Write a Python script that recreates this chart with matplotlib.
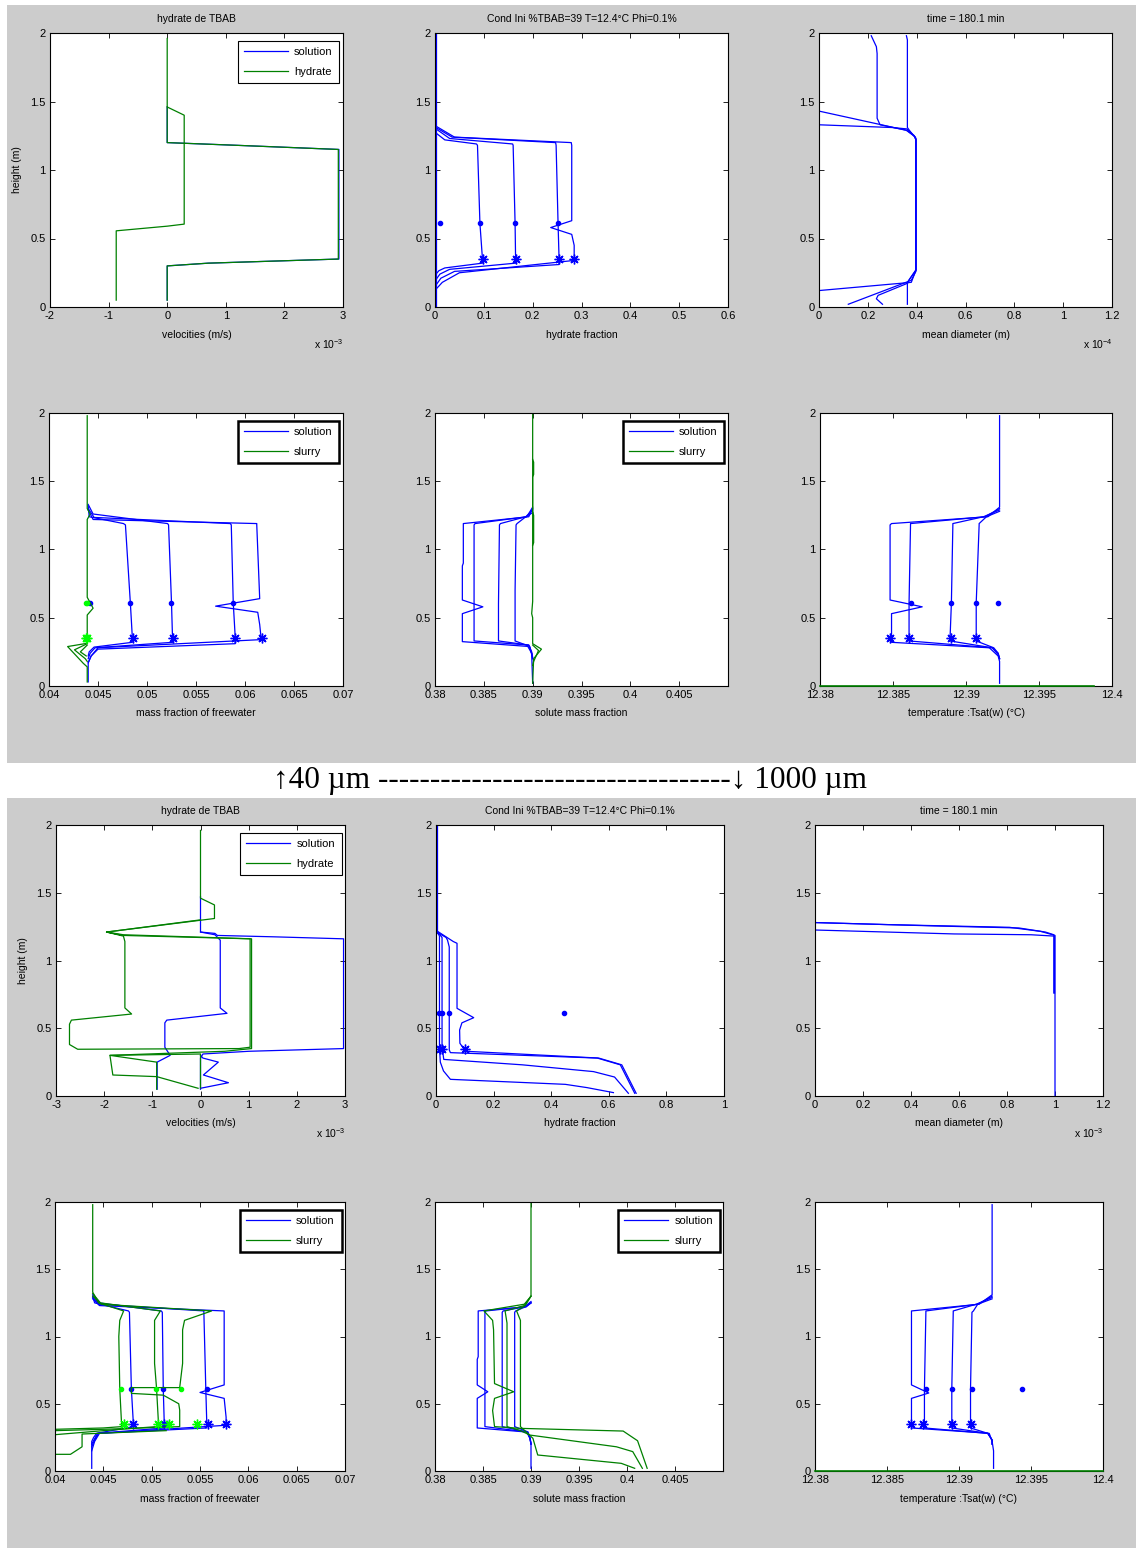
import numpy as np
import matplotlib
matplotlib.use('Agg')
import matplotlib.pyplot as plt
from matplotlib.patches import Rectangle
from matplotlib.ticker import FuncFormatter

plt.rcParams['font.family'] = ['Liberation Sans', 'DejaVu Sans']
plt.rcParams['mathtext.default'] = 'regular'
plt.rcParams['axes.unicode_minus'] = False

BLUE = '#0000ff'
GREEN = '#008000'
LGREEN = '#00ff00'

# ============ 40 um case ============
# velocities (x 1e-3 m/s)
vel40_sol_x = [0, 0, 0.7, 2.93, 2.93, 1.2, 0, 0]
vel40_sol_y = [0.05, 0.30, 0.32, 0.35, 1.15, 1.18, 1.20, 1.46]
vel40_hyd_x = [0, 0, 0.7, 2.92, 2.92, 1.2, 0, 0]
vel40_hyd_y = [0.05, 0.30, 0.32, 0.35, 1.15, 1.18, 1.20, 1.46]
vel40_hyd2_x = [0, 0, 0.29, 0.29, 0, -0.87, -0.87]
vel40_hyd2_y = [1.96, 1.46, 1.40, 0.605, 0.59, 0.556, 0.05]

# hydrate fraction
hf40_c0_x = [0.002, 0.002]
hf40_c0_y = [2.0, 0.0]
hf40_c1_x = [0.002, 0.02, 0.085, 0.087, 0.092, 0.097, 0.097, 0.02, 0.008, 0.002]
hf40_c1_y = [1.27, 1.22, 1.19, 1.18, 0.61, 0.36, 0.32, 0.285, 0.265, 0.24]
hf40_c2_x = [0.002, 0.03, 0.159, 0.16, 0.164, 0.165, 0.165, 0.03, 0.01, 0.002]
hf40_c2_y = [1.30, 1.23, 1.19, 1.18, 0.61, 0.36, 0.32, 0.275, 0.24, 0.20]
hf40_c3_x = [0.002, 0.035, 0.247, 0.248, 0.252, 0.254, 0.254, 0.04, 0.012, 0.002]
hf40_c3_y = [1.31, 1.24, 1.20, 1.18, 0.61, 0.36, 0.31, 0.26, 0.21, 0.16]
hf40_c4_x = [0.002, 0.04, 0.279, 0.280, 0.280, 0.237, 0.280, 0.285, 0.285, 0.05, 0.015, 0.002]
hf40_c4_y = [1.32, 1.24, 1.20, 1.18, 0.63, 0.58, 0.53, 0.45, 0.34, 0.25, 0.18, 0.13]
hf40_dot_x = [0.01, 0.092, 0.164, 0.252]
hf40_star_x = [0.0975, 0.165, 0.254, 0.285]

# mean diameter (x 1e-4 m)
dm40_a_x = [0, 0, 0.358, 0.39, 0.397, 0.397, 0.378, 0]
dm40_a_y = [2.0, 1.43, 1.29, 1.25, 1.22, 0.27, 0.18, 0.12]
dm40_b_x = [0, 0.3, 0.36, 0.39, 0.397, 0.397, 0.378, 0.12]
dm40_b_y = [1.33, 1.31, 1.30, 1.25, 1.22, 0.26, 0.195, 0.02]
dm40_c_x = [0.214, 0.235, 0.238, 0.238, 0.25, 0.358, 0.395, 0.397, 0.397, 0.358, 0.242, 0.235, 0.26]
dm40_c_y = [1.98, 1.90, 1.85, 1.378, 1.33, 1.29, 1.24, 1.22, 0.27, 0.17, 0.085, 0.06, 0.02]
dm40_d_x = [0.358, 0.362, 0.362, 0.37, 0.397, 0.397, 0.37, 0.362, 0.362]
dm40_d_y = [1.98, 1.95, 1.31, 1.29, 1.23, 0.27, 0.2, 0.17, 0.02]

# mass fraction of freewater
fw40_sol1_x = [0.044, 0.0441, 0.0476, 0.0478, 0.0483, 0.0485, 0.0485, 0.0446, 0.0441, 0.044]
fw40_sol1_y = [1.32, 1.24, 1.19, 1.18, 0.61, 0.36, 0.32, 0.285, 0.25, 0.22]
fw40_sol2_x = [0.044, 0.0445, 0.0521, 0.0522, 0.0525, 0.0526, 0.0526, 0.0447, 0.0442, 0.044]
fw40_sol2_y = [1.33, 1.26, 1.19, 1.18, 0.61, 0.36, 0.32, 0.28, 0.24, 0.20]
fw40_sol3_x = [0.044, 0.0446, 0.0585, 0.0586, 0.0588, 0.059, 0.059, 0.045, 0.0443, 0.044]
fw40_sol3_y = [1.30, 1.235, 1.19, 1.18, 0.61, 0.36, 0.31, 0.27, 0.22, 0.17]
fw40_sol4_x = [0.044, 0.0445, 0.0612, 0.0612, 0.0615, 0.057, 0.0613, 0.0615, 0.0616, 0.0617, 0.045, 0.0443, 0.044, 0.044]
fw40_sol4_y = [1.29, 1.22, 1.19, 1.18, 0.64, 0.585, 0.54, 0.45, 0.38, 0.34, 0.28, 0.22, 0.17, 0.03]
fw40_dot_x = [0.0442, 0.0483, 0.0525, 0.0588]
fw40_star_x = [0.0486, 0.0527, 0.059, 0.0617]
fw40_sl1_x = [0.0439, 0.0439, 0.0442, 0.0439, 0.0439, 0.0445, 0.0439, 0.0439, 0.0419, 0.0435, 0.0439, 0.0439]
fw40_sl1_y = [1.98, 1.30, 1.26, 1.22, 0.65, 0.57, 0.52, 0.313, 0.289, 0.166, 0.14, 0.03]
fw40_sl2_x = [0.0439, 0.0426, 0.0437, 0.0439]
fw40_sl2_y = [0.31, 0.265, 0.2, 0.18]
fw40_sl3_x = [0.0439, 0.0432, 0.0438]
fw40_sl3_y = [0.30, 0.25, 0.22]
fw40_sl_dot_x = [0.0439, 0.0438]
fw40_sl_star_x = [0.0439, 0.0438]

# solute mass fraction
sm40_sol1_x = [0.39, 0.3896, 0.3829, 0.3829, 0.3828, 0.3828, 0.3849, 0.3828, 0.3828, 0.3895, 0.3899, 0.39]
sm40_sol1_y = [1.30, 1.24, 1.19, 0.90, 0.88, 0.63, 0.58, 0.53, 0.325, 0.29, 0.24, 0.20]
sm40_sol2_x = [0.39, 0.3894, 0.3841, 0.384, 0.384, 0.384, 0.3896, 0.3899, 0.39]
sm40_sol2_y = [1.31, 1.24, 1.19, 1.18, 0.80, 0.33, 0.30, 0.25, 0.21]
sm40_sol3_x = [0.39, 0.3893, 0.3867, 0.3866, 0.3865, 0.3865, 0.3896, 0.3899, 0.39]
sm40_sol3_y = [1.29, 1.24, 1.19, 1.18, 0.60, 0.33, 0.30, 0.24, 0.20]
sm40_sol4_x = [0.39, 0.3893, 0.3884, 0.3883, 0.3882, 0.3882, 0.3897, 0.3899, 0.39]
sm40_sol4_y = [1.27, 1.24, 1.19, 1.18, 0.70, 0.33, 0.29, 0.23, 0.02]
sm40_sl1_x = [0.39, 0.39, 0.3899, 0.39, 0.39, 0.3909, 0.3901, 0.39]
sm40_sl1_y = [2.0, 0.62, 0.53, 0.50, 0.31, 0.27, 0.20, 0.02]
sm40_sl2_x = [0.39, 0.3906, 0.3901, 0.39]
sm40_sl2_y = [0.30, 0.26, 0.18, 0.15]
sm40_sl3_x = [0.39, 0.3901, 0.3901, 0.39, 0.39, 0.3901, 0.3901, 0.39]
sm40_sl3_y = [1.66, 1.64, 1.55, 1.53, 1.28, 1.25, 1.05, 1.03]

# temperature Tsat(w)
tp40_1_x = [12.3923, 12.3923, 12.3915, 12.3849, 12.3848, 12.3848, 12.3870, 12.3849, 12.3849, 12.3916, 12.3922, 12.3923, 12.3923]
tp40_1_y = [1.98, 1.31, 1.24, 1.19, 1.18, 0.63, 0.58, 0.53, 0.32, 0.28, 0.22, 0.18, 0.02]
tp40_2_x = [12.3923, 12.3913, 12.3862, 12.3862, 12.3861, 12.3861, 12.3918, 12.3922, 12.3923]
tp40_2_y = [1.30, 1.24, 1.19, 1.18, 0.61, 0.33, 0.28, 0.23, 0.20]
tp40_3_x = [12.3923, 12.3912, 12.3891, 12.3891, 12.3890, 12.3889, 12.3918, 12.3922, 12.3923]
tp40_3_y = [1.29, 1.24, 1.19, 1.18, 0.61, 0.33, 0.28, 0.24, 0.20]
tp40_4_x = [12.3923, 12.3914, 12.3909, 12.3909, 12.3907, 12.3907, 12.3919, 12.3922, 12.3923]
tp40_4_y = [1.28, 1.24, 1.19, 1.18, 0.61, 0.33, 0.28, 0.24, 0.20]
tp40_dot_x = [12.3862, 12.389, 12.3907, 12.3922]
tp40_star_x = [12.3848, 12.3861, 12.3890, 12.3907]
tp40_sl_x = [12.38, 12.3988]
tp40_sl_y = [0, 0]

# ============ 1000 um case ============
vel1000_sol1_x = [0.0, 0.0, 0.05, 1.0, 2.97, 2.97, 1.5, 0.35, 0.3, 0.0, 0.0]
vel1000_sol1_y = [0.05, 0.28, 0.31, 0.33, 0.35, 1.16, 1.175, 1.185, 1.20, 1.21, 1.47]
vel1000_sol2_x = [0.0, 0.3, 0.41, 0.41, 0.55, -0.70, -0.74, -0.74, -0.63, -0.90, -0.90]
vel1000_sol2_y = [1.21, 1.19, 1.15, 0.65, 0.61, 0.56, 0.54, 0.36, 0.30, 0.25, 0.05]
vel1000_sol3_x = [0.0, 0.05, 0.37, 0.06, 0.58, 0.0]
vel1000_sol3_y = [0.30, 0.28, 0.25, 0.155, 0.098, 0.057]
vel1000_hyd1_x = [0.0, 0.0, 0.29, 0.29, -1.95, -1.6, -1.57, -1.57, -1.43, -2.68, -2.72, -2.72, -2.55, 0.8, 1.03, 1.03, -1.6, -1.95]
vel1000_hyd1_y = [1.96, 1.46, 1.41, 1.31, 1.21, 1.18, 1.14, 0.65, 0.605, 0.56, 0.53, 0.38, 0.345, 0.35, 0.36, 1.16, 1.185, 1.21]
vel1000_hyd2_x = [0.0, -1.95, -1.6, 1.06, 1.06, 0.5, -1.88, -1.82, -0.91, -0.05]
vel1000_hyd2_y = [1.30, 1.21, 1.19, 1.16, 0.35, 0.33, 0.30, 0.155, 0.143, 0.057]
vel1000_hyd3_x = [0.0, 0.0, -1.88, -0.91, -0.91]
vel1000_hyd3_y = [0.06, 0.31, 0.30, 0.25, 0.05]

hf1000_c0_x = [0.002, 0.002]
hf1000_c0_y = [2.0, 1.2]
hf1000_c1_x = [0.002, 0.012, 0.012, 0.015, 0.026, 0.05, 0.449, 0.524, 0.616]
hf1000_c1_y = [1.22, 1.18, 0.36, 0.25, 0.185, 0.123, 0.086, 0.062, 0.025]
hf1000_c2_x = [0.002, 0.021, 0.021, 0.027, 0.3, 0.547, 0.62, 0.668]
hf1000_c2_y = [1.22, 1.17, 0.36, 0.27, 0.23, 0.18, 0.14, 0.02]
hf1000_c3_x = [0.002, 0.035, 0.04, 0.046, 0.046, 0.05, 0.56, 0.64, 0.69]
hf1000_c3_y = [1.21, 1.17, 1.15, 1.10, 0.34, 0.32, 0.28, 0.23, 0.02]
hf1000_c4_x = [0.002, 0.06, 0.073, 0.073, 0.131, 0.09, 0.082, 0.083, 0.096, 0.105, 0.565, 0.645, 0.695]
hf1000_c4_y = [1.22, 1.14, 1.127, 0.647, 0.578, 0.54, 0.487, 0.389, 0.35, 0.33, 0.28, 0.23, 0.02]
hf1000_dot_x = [0.012, 0.021, 0.046, 0.443]
hf1000_star_x = [0.015, 0.021, 0.102]

# mean diameter (x 1e-3 m)
dm1000_a_x = [0, 0, 0.3, 0.81, 0.94, 1.0, 1.0]
dm1000_a_y = [2.0, 1.28, 1.265, 1.245, 1.215, 1.185, 0.0]
dm1000_b_x = [0, 0, 0.3, 0.58, 0.9, 0.998, 0.998]
dm1000_b_y = [1.28, 1.225, 1.21, 1.196, 1.19, 1.18, 0.76]
dm1000_c_x = [0, 0.5, 0.85, 0.96, 0.995, 0.995]
dm1000_c_y = [1.28, 1.255, 1.24, 1.21, 1.19, 0.76]

fw1000_sol1_x = [0.0439, 0.0441, 0.0476, 0.0477, 0.0479, 0.0481, 0.0481, 0.0443, 0.0440, 0.0438, 0.0438]
fw1000_sol1_y = [1.30, 1.25, 1.19, 1.18, 0.61, 0.36, 0.33, 0.28, 0.25, 0.22, 0.02]
fw1000_sol2_x = [0.0439, 0.0445, 0.0510, 0.0511, 0.0512, 0.0513, 0.0513, 0.0444, 0.0441, 0.0438]
fw1000_sol2_y = [1.31, 1.25, 1.19, 1.18, 0.61, 0.36, 0.32, 0.28, 0.24, 0.20]
fw1000_sol3_x = [0.0439, 0.0446, 0.0554, 0.0554, 0.0556, 0.0557, 0.0557, 0.0445, 0.0441, 0.0438]
fw1000_sol3_y = [1.29, 1.24, 1.19, 1.18, 0.61, 0.36, 0.32, 0.28, 0.23, 0.18]
fw1000_sol4_x = [0.0439, 0.0446, 0.0575, 0.0575, 0.0575, 0.055, 0.0575, 0.0577, 0.0577, 0.0446, 0.0441, 0.0438]
fw1000_sol4_y = [1.28, 1.23, 1.19, 1.18, 0.64, 0.584, 0.54, 0.40, 0.34, 0.28, 0.22, 0.15]
fw1000_dot_x = [0.0479, 0.0512, 0.0557]
fw1000_star_x = [0.0481, 0.0513, 0.0558, 0.0577]
fw1000_sl1_x = [0.0439, 0.0439, 0.0445, 0.0471, 0.0467, 0.0466, 0.0467, 0.0469, 0.045, 0.04]
fw1000_sl1_y = [1.98, 1.33, 1.25, 1.19, 1.12, 1.00, 0.61, 0.33, 0.32, 0.31]
fw1000_sl2_x = [0.0439, 0.0447, 0.0509, 0.0503, 0.0503, 0.0505, 0.0507, 0.0505, 0.045, 0.04]
fw1000_sl2_y = [1.32, 1.25, 1.19, 1.12, 0.80, 0.62, 0.36, 0.33, 0.30, 0.27]
fw1000_sl3_x = [0.0439, 0.0448, 0.0562, 0.0534, 0.0532, 0.0532, 0.0529, 0.0479, 0.0479, 0.0512, 0.0528, 0.0529, 0.0529, 0.045, 0.04]
fw1000_sl3_y = [1.30, 1.24, 1.19, 1.12, 1.05, 0.80, 0.62, 0.62, 0.577, 0.564, 0.50, 0.453, 0.33, 0.31, 0.30]
fw1000_sl4_x = [0.0515, 0.0428, 0.0428, 0.0416, 0.04]
fw1000_sl4_y = [0.30, 0.275, 0.18, 0.124, 0.124]
fw1000_sl_dot_x = [0.0468, 0.0504, 0.053]
fw1000_sl_star_x = [0.0471, 0.0507, 0.0518, 0.0547]

sm1000_sol1_x = [0.39, 0.3895, 0.3845, 0.3845, 0.3844, 0.3844, 0.3855, 0.3844, 0.3844, 0.3895, 0.3899, 0.39, 0.39]
sm1000_sol1_y = [1.25, 1.22, 1.19, 0.85, 0.83, 0.64, 0.589, 0.54, 0.32, 0.29, 0.25, 0.20, 0.02]
sm1000_sol2_x = [0.39, 0.3893, 0.3853, 0.3852, 0.3852, 0.3896, 0.3899, 0.39]
sm1000_sol2_y = [1.26, 1.22, 1.19, 1.18, 0.33, 0.29, 0.24, 0.20]
sm1000_sol3_x = [0.39, 0.3893, 0.3871, 0.387, 0.387, 0.3896, 0.3899, 0.39]
sm1000_sol3_y = [1.25, 1.22, 1.19, 1.18, 0.33, 0.29, 0.24, 0.20]
sm1000_sol4_x = [0.39, 0.3894, 0.3884, 0.3883, 0.3883, 0.3897, 0.3899, 0.39]
sm1000_sol4_y = [1.25, 1.22, 1.19, 1.18, 0.33, 0.29, 0.24, 0.20]
sm1000_sl1_x = [0.39, 0.39, 0.3893, 0.3851, 0.386, 0.3861, 0.3862, 0.3882, 0.3862, 0.386, 0.3862, 0.3889, 0.3996, 0.4011, 0.4021]
sm1000_sl1_y = [2.0, 1.30, 1.24, 1.19, 1.12, 1.05, 0.65, 0.589, 0.54, 0.45, 0.33, 0.317, 0.297, 0.225, 0.02]
sm1000_sl2_x = [0.39, 0.3893, 0.3873, 0.3875, 0.3875, 0.3889, 0.3899, 0.3989, 0.4006, 0.4016]
sm1000_sl2_y = [1.30, 1.23, 1.19, 1.10, 0.33, 0.30, 0.267, 0.18, 0.144, 0.02]
sm1000_sl3_x = [0.39, 0.3894, 0.3885, 0.3889, 0.3889, 0.3902, 0.3907, 0.3994, 0.4008]
sm1000_sl3_y = [1.30, 1.23, 1.19, 1.12, 0.33, 0.243, 0.119, 0.057, 0.02]

tp1000_1_x = [12.3923, 12.3923, 12.3914, 12.3867, 12.3867, 12.3867, 12.3879, 12.3867, 12.3867, 12.3921, 12.3923, 12.3924, 12.3924]
tp1000_1_y = [1.98, 1.31, 1.24, 1.19, 1.18, 0.64, 0.58, 0.54, 0.32, 0.28, 0.22, 0.15, 0.02]
tp1000_2_x = [12.3923, 12.3913, 12.3877, 12.3877, 12.3876, 12.3876, 12.392, 12.3923, 12.3923]
tp1000_2_y = [1.30, 1.24, 1.19, 1.18, 0.61, 0.32, 0.28, 0.23, 0.20]
tp1000_3_x = [12.3923, 12.3912, 12.3896, 12.3896, 12.3895, 12.3895, 12.392, 12.3923, 12.3923]
tp1000_3_y = [1.29, 1.24, 1.19, 1.18, 0.61, 0.32, 0.28, 0.23, 0.20]
tp1000_4_x = [12.3923, 12.3913, 12.3910, 12.3909, 12.3908, 12.3908, 12.392, 12.3923, 12.3923]
tp1000_4_y = [1.28, 1.24, 1.19, 1.18, 0.61, 0.32, 0.28, 0.23, 0.20]
tp1000_dot_x = [12.3877, 12.3895, 12.3909, 12.3944]
tp1000_star_x = [12.3867, 12.3875, 12.3895, 12.3908]
tp1000_sl_x = [12.38, 12.40]
tp1000_sl_y = [0, 0]

DOT_H = 0.61   # height of the '.' probe markers
STAR_H = 0.35  # height of the '*' probe markers

W, H = 1136, 1551
fig = plt.figure(figsize=(W / 100, H / 100), dpi=100)

# gray matlab figure backgrounds
for top, bot in [(5, 763), (798, 1548)]:
    fig.add_artist(Rectangle((7 / W, 1 - bot / H), (W - 7) / W, (bot - top) / H,
                             transform=fig.transFigure, facecolor='#cccccc',
                             edgecolor='none', zorder=-5))


def px_axes(l, t, r, b):
    ax = fig.add_axes([l / W, 1 - b / H, (r - l) / W, (b - t) / H])
    ax.set_ylim(0, 2)
    ax.set_yticks([0, 0.5, 1, 1.5, 2])
    fmt = FuncFormatter(lambda v, p: f'{v:g}')
    ax.xaxis.set_major_formatter(fmt)
    ax.yaxis.set_major_formatter(fmt)
    ax.tick_params(direction='in', top=True, right=True, length=3.5, width=0.6,
                   labelsize=8, pad=3)
    for s in ax.spines.values():
        s.set_linewidth(0.8)
    return ax


def setx(ax, lo, hi, step, ticks_hi=None, label=''):
    ax.set_xlim(lo, hi)
    th = hi if ticks_hi is None else ticks_hi
    ax.set_xticks(np.round(np.arange(lo, th + step / 2, step), 6))
    ax.set_xlabel(label, fontsize=7.5, labelpad=6)


def draw(ax, curves, color):
    for x, y in curves:
        ax.plot(x, y, color=color, lw=0.9)


def probes(ax, dots, stars, color):
    ax.plot(dots, [DOT_H] * len(dots), ls='none', marker='.', ms=6, color=color)
    ax.plot(stars, [STAR_H] * len(stars), ls='none', marker=(8, 2, 0), ms=7,
            mew=1.0, color=color)


def legend(ax, labels, thick):
    h1, = ax.plot([], [], color=BLUE, lw=0.9)
    h2, = ax.plot([], [], color=GREEN, lw=0.9)
    leg = ax.legend([h1, h2], labels, loc='upper right', bbox_to_anchor=(0.988, 0.972),
                    borderaxespad=0, fancybox=False, edgecolor='black', framealpha=1,
                    fontsize=8, handlelength=3.9, handletextpad=0.6, borderpad=0.6,
                    labelspacing=0.85)
    leg.get_frame().set_linewidth(1.8 if thick else 0.8)


def expo(ax, e):
    ax.text(0.9, -0.11, r'x 10$^{%d}$' % e, transform=ax.transAxes, fontsize=7.5,
            ha='left', va='top')


TITLES = ['hydrate de TBAB', 'Cond Ini %TBAB=39 T=12.4°C Phi=0.1%', 'time = 180.1 min']

blocks = [
    dict(r1=(33, 307), r2=(413, 686), cols1=[(50, 343), (435, 728), (819, 1112)],
         cols2=[(49, 343), (435, 728), (820, 1112)]),
    dict(r1=(825, 1096), r2=(1202, 1471), cols1=[(56, 345), (436, 724), (815, 1103)],
         cols2=[(55, 345), (435, 723), (815, 1103)]),
]

axs = []
for blk in blocks:
    row = []
    for (l, r) in blk['cols1']:
        row.append(px_axes(l, blk['r1'][0], r, blk['r1'][1]))
    for (l, r) in blk['cols2']:
        row.append(px_axes(l, blk['r2'][0], r, blk['r2'][1]))
    for i, t in enumerate(TITLES):
        row[i].set_title(t, fontsize=7.5, pad=8)
    row[0].set_ylabel('height (m)', fontsize=7.5, labelpad=6)
    axs.append(row)

# ---------- 40 um ----------
a = axs[0]
draw(a[0], [(vel40_sol_x, vel40_sol_y)], BLUE)
draw(a[0], [(vel40_hyd_x, vel40_hyd_y), (vel40_hyd2_x, vel40_hyd2_y)], GREEN)
setx(a[0], -2, 3, 1, label='velocities (m/s)')
legend(a[0], ['solution', 'hydrate'], False)
expo(a[0], -3)

draw(a[1], [(hf40_c0_x, hf40_c0_y), (hf40_c1_x, hf40_c1_y), (hf40_c2_x, hf40_c2_y),
            (hf40_c3_x, hf40_c3_y), (hf40_c4_x, hf40_c4_y)], BLUE)
probes(a[1], hf40_dot_x, hf40_star_x, BLUE)
setx(a[1], 0, 0.6, 0.1, label='hydrate fraction')

draw(a[2], [(dm40_a_x, dm40_a_y), (dm40_b_x, dm40_b_y), (dm40_c_x, dm40_c_y),
            (dm40_d_x, dm40_d_y)], BLUE)
setx(a[2], 0, 1.2, 0.2, label='mean diameter (m)')
expo(a[2], -4)

draw(a[3], [(fw40_sol1_x, fw40_sol1_y), (fw40_sol2_x, fw40_sol2_y),
            (fw40_sol3_x, fw40_sol3_y), (fw40_sol4_x, fw40_sol4_y)], BLUE)
probes(a[3], fw40_dot_x, fw40_star_x, BLUE)
draw(a[3], [(fw40_sl1_x, fw40_sl1_y), (fw40_sl2_x, fw40_sl2_y), (fw40_sl3_x, fw40_sl3_y)], GREEN)
probes(a[3], fw40_sl_dot_x, fw40_sl_star_x, LGREEN)
setx(a[3], 0.04, 0.07, 0.005, label='mass fraction of freewater')
legend(a[3], ['solution', 'slurry'], True)

draw(a[4], [(sm40_sol1_x, sm40_sol1_y), (sm40_sol2_x, sm40_sol2_y),
            (sm40_sol3_x, sm40_sol3_y), (sm40_sol4_x, sm40_sol4_y)], BLUE)
draw(a[4], [(sm40_sl1_x, sm40_sl1_y), (sm40_sl2_x, sm40_sl2_y), (sm40_sl3_x, sm40_sl3_y)], GREEN)
setx(a[4], 0.38, 0.41, 0.005, ticks_hi=0.405, label='solute mass fraction')
legend(a[4], ['solution', 'slurry'], True)

draw(a[5], [(tp40_1_x, tp40_1_y), (tp40_2_x, tp40_2_y), (tp40_3_x, tp40_3_y),
            (tp40_4_x, tp40_4_y)], BLUE)
probes(a[5], tp40_dot_x, tp40_star_x, BLUE)
a[5].plot(tp40_sl_x, tp40_sl_y, color=GREEN, lw=1.2, zorder=3, clip_on=False)
setx(a[5], 12.38, 12.40, 0.005, label='temperature :Tsat(w) (°C)')

# ---------- 1000 um ----------
b = axs[1]
draw(b[0], [(vel1000_sol1_x, vel1000_sol1_y), (vel1000_sol2_x, vel1000_sol2_y),
            (vel1000_sol3_x, vel1000_sol3_y)], BLUE)
draw(b[0], [(vel1000_hyd1_x, vel1000_hyd1_y), (vel1000_hyd2_x, vel1000_hyd2_y),
            (vel1000_hyd3_x, vel1000_hyd3_y)], GREEN)
setx(b[0], -3, 3, 1, label='velocities (m/s)')
legend(b[0], ['solution', 'hydrate'], False)
expo(b[0], -3)

draw(b[1], [(hf1000_c0_x, hf1000_c0_y), (hf1000_c1_x, hf1000_c1_y), (hf1000_c2_x, hf1000_c2_y),
            (hf1000_c3_x, hf1000_c3_y), (hf1000_c4_x, hf1000_c4_y)], BLUE)
probes(b[1], hf1000_dot_x, hf1000_star_x, BLUE)
setx(b[1], 0, 1, 0.2, label='hydrate fraction')

draw(b[2], [(dm1000_a_x, dm1000_a_y), (dm1000_b_x, dm1000_b_y), (dm1000_c_x, dm1000_c_y)], BLUE)
setx(b[2], 0, 1.2, 0.2, label='mean diameter (m)')
expo(b[2], -3)

draw(b[3], [(fw1000_sol1_x, fw1000_sol1_y), (fw1000_sol2_x, fw1000_sol2_y),
            (fw1000_sol3_x, fw1000_sol3_y), (fw1000_sol4_x, fw1000_sol4_y)], BLUE)
probes(b[3], fw1000_dot_x, fw1000_star_x, BLUE)
draw(b[3], [(fw1000_sl1_x, fw1000_sl1_y), (fw1000_sl2_x, fw1000_sl2_y),
            (fw1000_sl3_x, fw1000_sl3_y), (fw1000_sl4_x, fw1000_sl4_y)], GREEN)
probes(b[3], fw1000_sl_dot_x, fw1000_sl_star_x, LGREEN)
setx(b[3], 0.04, 0.07, 0.005, label='mass fraction of freewater')
legend(b[3], ['solution', 'slurry'], True)

draw(b[4], [(sm1000_sol1_x, sm1000_sol1_y), (sm1000_sol2_x, sm1000_sol2_y),
            (sm1000_sol3_x, sm1000_sol3_y), (sm1000_sol4_x, sm1000_sol4_y)], BLUE)
draw(b[4], [(sm1000_sl1_x, sm1000_sl1_y), (sm1000_sl2_x, sm1000_sl2_y),
            (sm1000_sl3_x, sm1000_sl3_y)], GREEN)
setx(b[4], 0.38, 0.41, 0.005, ticks_hi=0.405, label='solute mass fraction')
legend(b[4], ['solution', 'slurry'], True)

draw(b[5], [(tp1000_1_x, tp1000_1_y), (tp1000_2_x, tp1000_2_y), (tp1000_3_x, tp1000_3_y),
            (tp1000_4_x, tp1000_4_y)], BLUE)
probes(b[5], tp1000_dot_x, tp1000_star_x, BLUE)
b[5].plot(tp1000_sl_x, tp1000_sl_y, color=GREEN, lw=1.2, zorder=3, clip_on=False)
setx(b[5], 12.38, 12.40, 0.005, label='temperature :Tsat(w) (°C)')

# caption between the two figures
fig.text(570 / W, 1 - 781 / H, '↑40 µm ' + '-' * 34 + '↓ 1000 µm',
         family=['Liberation Serif', 'DejaVu Serif'], fontsize=22.5,
         ha='center', va='center')

fig.savefig('out.png', dpi=100, facecolor='white')
